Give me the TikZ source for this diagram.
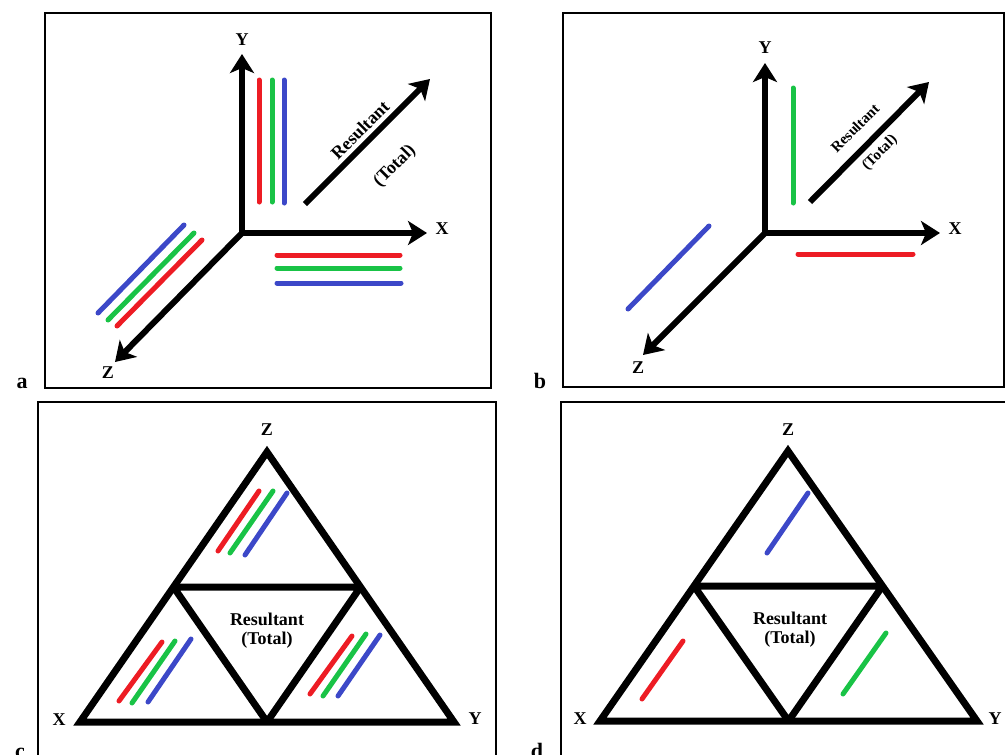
\documentclass[tikz,border=0pt]{standalone}
\usepackage{fontspec}
\setmainfont{Liberation Serif}
\usetikzlibrary{arrows.meta,calc}
\definecolor{cred}{RGB}{237,28,36}
\definecolor{cgreen}{RGB}{25,195,70}
\definecolor{cblue}{RGB}{60,72,200}
\begin{document}
\begin{tikzpicture}[x=1pt,y=-1pt,
  frame/.style={draw, line width=1.4pt},
  axis/.style={line width=6pt, -{Stealth[length=19pt,width=24pt,inset=5pt]}},
  bar/.style={line width=5pt, line cap=round},
  tri/.style={line width=7pt, line join=miter},
  itri/.style={line width=7pt, line join=bevel},
  lab/.style={font=\bfseries\fontsize{18}{18}\selectfont, inner sep=0pt},
  plab/.style={font=\bfseries\fontsize{22}{22}\selectfont, inner sep=0pt, anchor=base},
  rtext/.style={font=\bfseries\fontsize{#1}{#1}\selectfont, inner sep=0pt, rotate=45},
  ctext/.style={font=\bfseries\fontsize{18}{19}\selectfont, inner sep=0pt, align=center}
]
\useasboundingbox (0,0) rectangle (1005,755);

% ---------------- panel a ----------------
\draw[frame] (45,13) rectangle (491,388);
\node[plab] (pa) at (22,388) {a};
\coordinate (oa) at (242,233);
\coordinate (ya) at (242,54);
\coordinate (xa) at (427,233);
\coordinate (za) at (115,362);
\draw[axis] (oa) -- (ya);
\draw[axis] (oa) -- (xa);
\draw[axis] (oa) -- (za);
\node[lab] (lya) at (242,40) {Y};
\node[lab] (lxa) at (442,229) {X};
\node[lab] (lza) at (108,373) {Z};
\coordinate (ra1) at (305,204);
\coordinate (ra2) at (430,79);
\draw[axis] (ra1) -- (ra2);
\node[rtext=18] (resa) at (360,130) {Resultant};
\node[rtext=18] (tota) at (395,166) {(Total)};
% Y bars
\draw[bar, cred]   (259,80) -- (259,202);
\draw[bar, cgreen] (272,80) -- (272,202);
\draw[bar, cblue]  (284,80) -- (284,203);
% X bars
\draw[bar, cred]   (277,255) -- (400,255);
\draw[bar, cgreen] (277,268) -- (400,268);
\draw[bar, cblue]  (277,283) -- (401,283);
% Z bars
\draw[bar, cblue]  (98,313) -- (184,225);
\draw[bar, cgreen] (108,320) -- (194,233);
\draw[bar, cred]   (117,326) -- (202,240);

% ---------------- panel b ----------------
\draw[frame] (563,13) rectangle (1004,387);
\node[plab] (pb) at (540,388) {b};
\coordinate (ob) at (765,233);
\coordinate (yb) at (765,63);
\coordinate (xb) at (940,233);
\coordinate (zb) at (643,355);
\draw[axis] (ob) -- (yb);
\draw[axis] (ob) -- (xb);
\draw[axis] (ob) -- (zb);
\node[lab] (lyb) at (765,48) {Y};
\node[lab] (lxb) at (955,229) {X};
\node[lab] (lzb) at (638,368) {Z};
\coordinate (rb1) at (810,202);
\coordinate (rb2) at (929,82);
\draw[axis] (rb1) -- (rb2);
\node[rtext=15] (resb) at (855,128) {Resultant};
\node[rtext=15] (totb) at (880,153) {(Total)};
\draw[bar, cgreen] (793,88) -- (793,203);
\draw[bar, cred]   (798,254) -- (913,254);
\draw[bar, cblue]  (628,309) -- (709,226);

% ---------------- panel c ----------------
\draw[frame] (38,402) rectangle (496,770);
\node[plab] (pc) at (20,758) {c};
\coordinate (cz) at (267,452);
\coordinate (cx) at (80,722);
\coordinate (cy) at (454,722);
\coordinate (cl) at ($(cz)!0.5!(cx)$);
\coordinate (cr) at ($(cz)!0.5!(cy)$);
\coordinate (cb) at ($(cx)!0.5!(cy)$);
\draw[tri] (cz) -- (cx) -- (cy) -- cycle;
\draw[itri] (cl) -- (cr) -- (cb) -- cycle;
\node[lab] (lzc) at (267,430) {Z};
\node[lab] (lxc) at (59,720) {X};
\node[lab] (lyc) at (475,719) {Y};
\node[ctext] (resc) at (267,631) {Resultant\\(Total)};
\draw[bar, cred]   (218,551) -- (259,491);
\draw[bar, cgreen] (230,553) -- (273,491);
\draw[bar, cblue]  (245,555) -- (287,493);
\draw[bar, cred]   (119,701) -- (162,642);
\draw[bar, cgreen] (132,703) -- (175,641);
\draw[bar, cblue]  (148,702) -- (191,639);
\draw[bar, cred]   (310,694) -- (352,636);
\draw[bar, cgreen] (323,696) -- (366,634);
\draw[bar, cblue]  (338,696) -- (380,635);

% ---------------- panel d ----------------
\draw[frame] (561,402) rectangle (1010,770);
\node[plab] (pd) at (537,758) {d};
\coordinate (dz) at (788,451);
\coordinate (dx) at (600,721);
\coordinate (dy) at (977,721);
\coordinate (dl) at ($(dz)!0.5!(dx)$);
\coordinate (dr) at ($(dz)!0.5!(dy)$);
\coordinate (db) at ($(dx)!0.5!(dy)$);
\draw[tri] (dz) -- (dx) -- (dy) -- cycle;
\draw[itri] (dl) -- (dr) -- (db) -- cycle;
\node[lab] (lzd) at (788,430) {Z};
\node[lab] (lxd) at (580,719) {X};
\node[lab] (lyd) at (995,719) {Y};
\node[ctext] (resd) at (790,630) {Resultant\\(Total)};
\draw[bar, cblue]  (767,553) -- (808,493);
\draw[bar, cred]   (642,699) -- (683,641);
\draw[bar, cgreen] (843,694) -- (886,633);
\end{tikzpicture}
\end{document}
